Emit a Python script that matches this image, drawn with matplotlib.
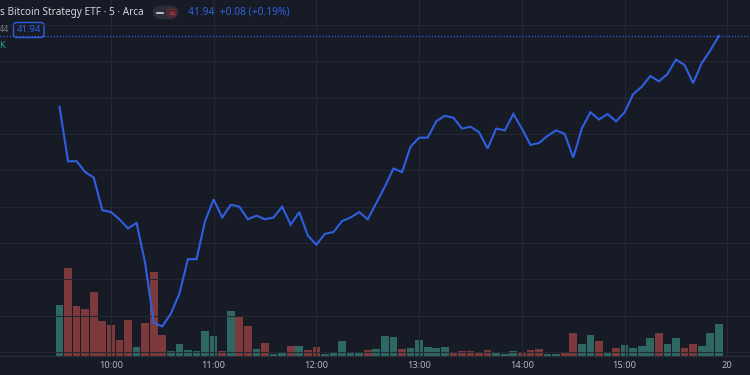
import matplotlib
matplotlib.use("Agg")
import matplotlib.pyplot as plt
from matplotlib.patches import FancyBboxPatch
import numpy as np

# ---- data ----
close = [41.55, 41.25, 41.25, 41.19, 41.16, 40.98, 40.97, 40.93, 40.88, 40.91,
         40.69, 40.36, 40.34, 40.41, 40.52, 40.71, 40.71, 40.92, 41.04, 40.94,
         41.01, 41.00, 40.93, 40.95, 40.93, 40.94, 41.00, 40.90, 40.97, 40.84,
         40.79, 40.85, 40.86, 40.92, 40.94, 40.97, 40.93, 41.02, 41.11, 41.21,
         41.19, 41.33, 41.38, 41.38, 41.47, 41.50, 41.49, 41.43, 41.44, 41.41,
         41.32, 41.43, 41.42, 41.51, 41.43, 41.34, 41.35, 41.39, 41.42, 41.40,
         41.27, 41.43, 41.52, 41.48, 41.51, 41.47, 41.52, 41.62, 41.66, 41.72,
         41.69, 41.73, 41.81, 41.78, 41.68, 41.79, 41.86, 41.94]
volume_k = [103, 177, 101, 94, 128, 71, 63, 33, 73, 19,
            67, 169, 42, 11, 25, 12, 11, 50, 41, 11,
            90, 81, 61, 14, 27, 5, 7, 20, 20, 13,
            18, 5, 7, 31, 7, 8, 12, 14, 41, 38,
            14, 17, 33, 18, 16, 19, 8, 11, 11, 7,
            13, 8, 5, 11, 8, 13, 15, 5, 5, 8,
            47, 24, 43, 31, 7, 16, 23, 17, 21, 37,
            47, 24, 37, 17, 24, 20, 46, 64]
vol_up = [1, 0, 0, 0, 0, 0, 0, 0, 0, 1,
          0, 0, 0, 1, 1, 1, 1, 1, 1, 0,
          1, 0, 0, 1, 0, 1, 1, 0, 1, 0,
          0, 1, 1, 1, 1, 1, 0, 1, 1, 1,
          0, 1, 1, 1, 1, 1, 0, 0, 0, 0,
          0, 1, 1, 1, 0, 0, 0, 1, 1, 0,
          0, 1, 1, 0, 1, 0, 1, 1, 1, 1,
          0, 1, 1, 0, 0, 1, 1, 1]
tick_pos = [6, 18, 30, 42, 54, 66, 78]
tick_labels = ["10:00", "11:00", "12:00", "13:00", "14:00", "15:00", "20"]
price_grid = [40.20, 40.40, 40.60, 40.80, 41.00, 41.20, 41.40, 41.60, 41.80, 42.00]
last_price = 41.94

# ---- style ----
BG = "#171b26"
GRID = "#242835"
LINE = "#2f5fe0"
UPC = "#2f6863"
DNC = "#7d3a3c"
TXT = "#b2b5be"

W, H = 750, 375
fig = plt.figure(figsize=(7.5, 3.75), dpi=100)
fig.patch.set_facecolor(BG)

px0, pxstep = 59.5, 8.5625
x_left = (0 - px0) / pxstep
x_right = (W - px0) / pxstep
bottom_px = 19
ax = fig.add_axes([0, bottom_px / H, 1, 1 - bottom_px / H])
ax.set_facecolor(BG)
ax.set_xlim(x_left, x_right)
ppp = 0.2 / 36.3  # price per pixel
y_top = 42.00 + 25.1 * ppp
y_bot = 42.00 - (356 - 25.1) * ppp
ax.set_ylim(y_bot, y_top)

axv = ax.twinx()
axv.set_position(ax.get_position())
axv.set_ylim(0, 2 * 356)
axv.set_xlim(x_left, x_right)

idx = np.arange(len(close))
cols = [UPC if u else DNC for u in vol_up]
axv.bar(idx, volume_k, width=0.9, color=cols, zorder=1, linewidth=0)

for p in price_grid:
    ax.axhline(p, color=GRID, lw=0.8, zorder=0)
for t in tick_pos:
    ax.axvline(t, color=GRID, lw=0.8, zorder=0)

ax.set_zorder(axv.get_zorder() + 1)
ax.patch.set_visible(False)
axv.patch.set_facecolor(BG)

ax.plot(idx, close, color=LINE, lw=1.5, zorder=5, solid_joinstyle="miter")
ax.axhline(last_price, color=LINE, lw=0.9, ls=(0, (1, 1.5)), zorder=4)

for a in (ax, axv):
    for s in a.spines.values():
        s.set_visible(False)
    a.set_yticks([])
ax.set_xticks([])
axv.set_xticks([])

# bottom border line
fig.add_artist(plt.Line2D([0, 1], [bottom_px / H, bottom_px / H], color="#2a2e39", lw=0.8))

# time labels
for t, lab in zip(tick_pos, tick_labels):
    xp = (px0 + t * pxstep) / W
    fig.text(xp, 1 - 365 / H, lab, color=TXT, fontsize=6.7, ha="center", va="center",
             family="Noto Sans")

# header
fig.text(0 / W, 1 - 12 / H, "s Bitcoin Strategy ETF · 5 · Arca", color="#d1d4dc",
         fontsize=7.2, ha="left", va="center", family="Noto Sans")
pill = FancyBboxPatch((153 / W, 1 - 19.5 / H), 25 / W, 14 / H,
                      boxstyle="round,pad=0,rounding_size=0.015",
                      transform=fig.transFigure, facecolor="#2a2e39", edgecolor="none")
fig.add_artist(pill)
fig.add_artist(plt.Line2D([156.5 / W, 162.5 / W], [1 - 12.5 / H] * 2, color="#d1d4dc", lw=1.2))
fig.add_artist(FancyBboxPatch((166 / W, 1 - 18.5 / H), 11 / W, 12 / H,
                              boxstyle="round,pad=0,rounding_size=0.012",
                              transform=fig.transFigure, facecolor="#4a2a35", edgecolor="none"))
fig.text(171.5 / W, 1 - 12.5 / H, "≈", color="#f23645", fontsize=6, ha="center", va="center")
fig.text(188 / W, 1 - 12 / H, "41.94  +0.08 (+0.19%)", color="#2f5fe0",
         fontsize=7.4, ha="left", va="center", family="Noto Sans")

fig.text(-1 / W, 1 - 29.5 / H, "44", color="#787b86", fontsize=6.4, ha="left", va="center",
         family="Noto Sans")
box = FancyBboxPatch((13.5 / W, 1 - 37.5 / H), 30.5 / W, 15 / H,
                     boxstyle="round,pad=0,rounding_size=0.006",
                     transform=fig.transFigure, facecolor=BG, edgecolor="#2f5fe0", lw=1.0)
fig.add_artist(box)
fig.text(28.75 / W, 1 - 30 / H, "41.94", color="#2f5fe0", fontsize=6.8, ha="center",
         va="center", family="Noto Sans")
fig.text(-1 / W, 1 - 46 / H, "K", color="#26a69a", fontsize=6.4, ha="left", va="center",
         family="Noto Sans")

fig.savefig("out.png", dpi=100, facecolor=BG)
